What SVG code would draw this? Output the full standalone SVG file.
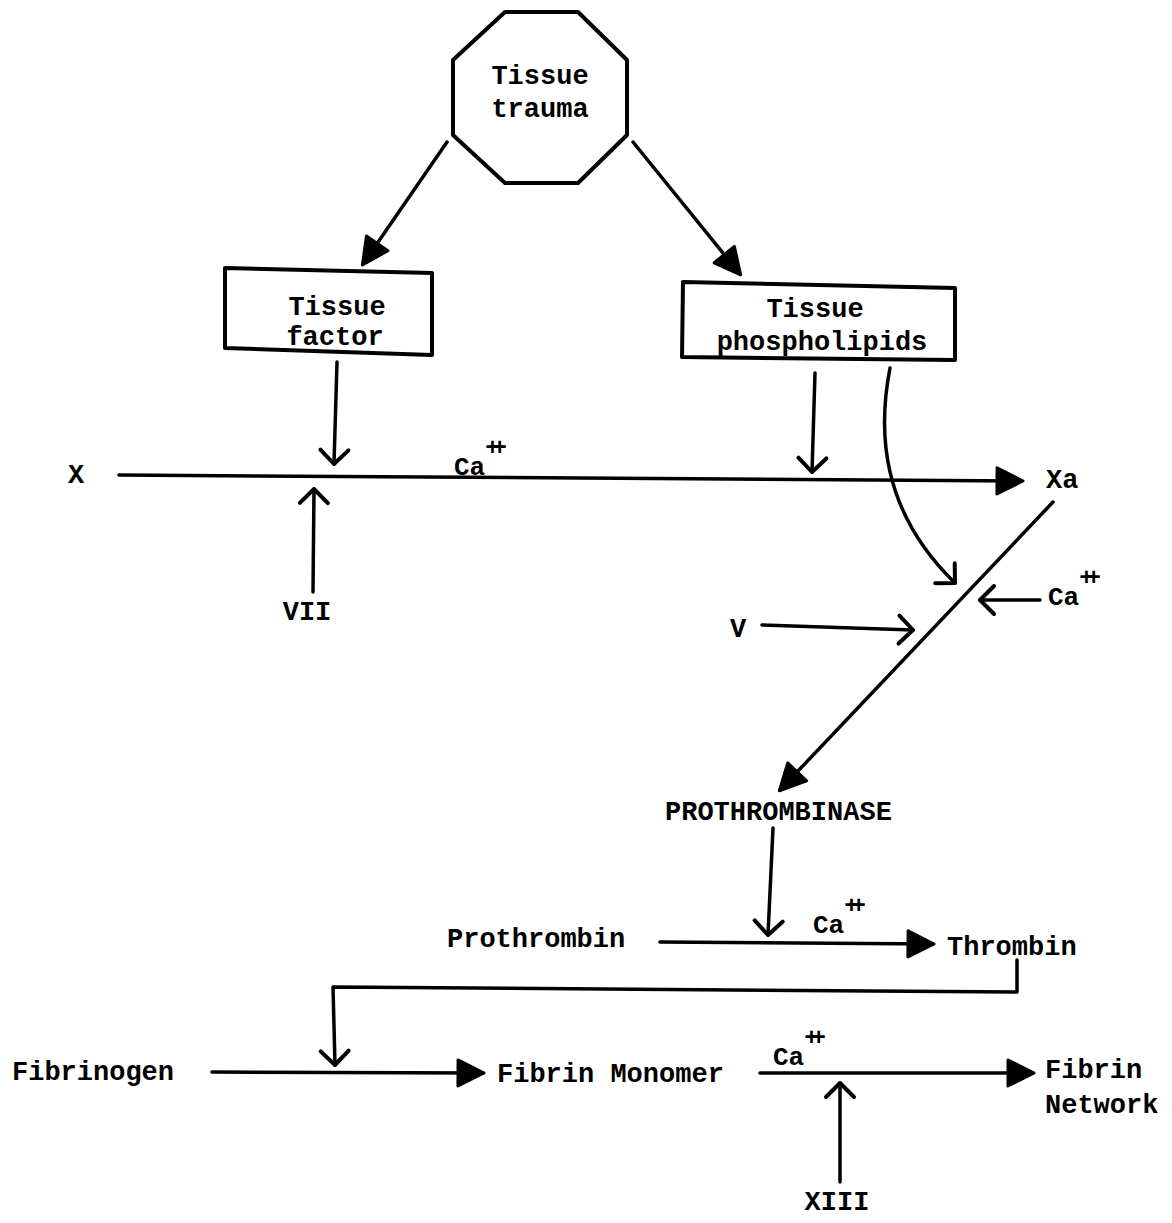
<svg xmlns="http://www.w3.org/2000/svg" width="1172" height="1223" viewBox="0 0 1172 1223">
<defs>
<style>
.t{font-family:"Liberation Mono","DejaVu Sans Mono",monospace;font-weight:bold;font-size:27px;fill:#000}
.ca{font-family:"Liberation Mono","DejaVu Sans Mono",monospace;font-weight:bold;font-size:26px;fill:#000}
.sup{font-size:24px;letter-spacing:-7px}
.mid{text-anchor:middle}
.shape{fill:#fff;stroke:#000;stroke-width:4;stroke-linejoin:round}
.ln{fill:none;stroke:#000;stroke-width:3.5;stroke-linecap:round;stroke-linejoin:round}
.f{marker-end:url(#filled)}
.o{marker-end:url(#open)}
</style>
<marker id="filled" viewBox="0 0 30 30" refX="27" refY="15" markerWidth="30" markerHeight="30" markerUnits="userSpaceOnUse" orient="auto">
<path d="M2,2 L28,15 L2,28 Z" fill="#000" stroke="#000" stroke-width="3" stroke-linejoin="round"/>
</marker>
<marker id="open" viewBox="-18 -18 22 36" refX="0" refY="0" markerWidth="22" markerHeight="36" markerUnits="userSpaceOnUse" orient="auto">
<path d="M-14,-14 L0,0 L-14,14" fill="none" stroke="#000" stroke-width="4" stroke-linecap="round" stroke-linejoin="round"/>
</marker>
</defs>
<rect width="1172" height="1223" fill="#fff"/>

<g id="connectors">
<path class="ln f" d="M447,142 L363,264"/>
<path class="ln f" d="M633,142 L740,274"/>
<path class="ln o" d="M337,362 L334,464"/>
<path class="ln o" d="M313,592 L314,489"/>
<path class="ln f" d="M119,475 L1022,481"/>
<path class="ln o" d="M815,373 L812,472"/>
<path class="ln o" d="M890,368 C878,430 880,510 955,583"/>
<path class="ln f" d="M1053,502 L780,790"/>
<path class="ln o" d="M1040,600 L980,600"/>
<path class="ln o" d="M762,625 L913,630"/>
<path class="ln o" d="M773,828 L768,935"/>
<path class="ln f" d="M660,942 L933,944"/>
<path class="ln o" d="M1017,960 L1017,992 L333,987 L335,1065"/>
<path class="ln f" d="M212,1072 L483,1073"/>
<path class="ln f" d="M760,1073 L1033,1073"/>
<path class="ln o" d="M840,1182 L840,1083"/>
</g>

<g id="tissue-trauma">
<polygon class="shape" points="505,12 578,12 627,60 627,135 578,183 505,183 453,135 453,60"/>
<text class="t mid" x="540" y="84">Tissue</text>
<text class="t mid" x="540" y="117">trauma</text>
</g>

<g id="tissue-factor">
<polygon class="shape" points="225,268 432,273 432,355 225,348"/>
<text class="t mid" x="337" y="315">Tissue</text>
<text class="t mid" x="335" y="345">factor</text>
</g>

<g id="tissue-phospholipids">
<polygon class="shape" points="683,282 955,288 955,360 682,357"/>
<text class="t mid" x="815" y="317">Tissue</text>
<text class="t mid" x="822" y="350">phospholipids</text>
</g>

<g id="factor-x"><text class="t mid" x="76" y="483">X</text></g>
<g id="ca-1"><text class="ca" x="454" y="475">Ca<tspan class="sup" dy="-20">++</tspan></text></g>
<g id="factor-vii"><text class="t mid" x="307" y="620">VII</text></g>
<g id="factor-xa"><text class="t" x="1046" y="488">Xa</text></g>
<g id="factor-v"><text class="t mid" x="738" y="637">V</text></g>
<g id="ca-2"><text class="ca" x="1048" y="605">Ca<tspan class="sup" dy="-20">++</tspan></text></g>
<g id="prothrombinase"><text class="t" x="665" y="820">PROTHROMBINASE</text></g>
<g id="prothrombin"><text class="t" x="447" y="947">Prothrombin</text></g>
<g id="ca-3"><text class="ca" x="813" y="933">Ca<tspan class="sup" dy="-20">++</tspan></text></g>
<g id="thrombin"><text class="t" x="947" y="955">Thrombin</text></g>
<g id="fibrinogen"><text class="t" x="12" y="1080">Fibrinogen</text></g>
<g id="fibrin-monomer"><text class="t" x="497" y="1082">Fibrin Monomer</text></g>
<g id="ca-4"><text class="ca" x="773" y="1065">Ca<tspan class="sup" dy="-20">++</tspan></text></g>
<g id="fibrin-network">
<text class="t" x="1045" y="1078">Fibrin</text>
<text class="t" x="1045" y="1113">Network</text>
</g>
<g id="factor-xiii"><text class="t mid" x="837" y="1210">XIII</text></g>
</svg>
